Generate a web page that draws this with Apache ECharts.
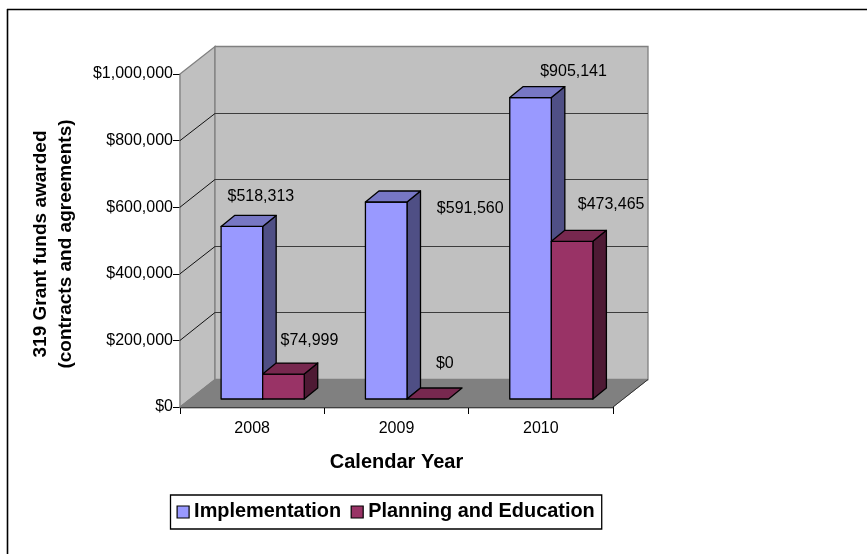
<!DOCTYPE html>
<html>
<head>
<meta charset="utf-8">
<script src="https://cdn.jsdelivr.net/npm/echarts@6/dist/echarts.min.js"></script>
<style>
  html, body { margin: 0; padding: 0; background: #fff; }
  #chart { width: 867px; height: 554px; }
</style>
</head>
<body>
<div id="chart"></div>
<script>
// Grant funding by calendar year, drawn as a 3-D style clustered column chart.
const categories = ['2008', '2009', '2010'];
const implementation = [518313, 591560, 905141];
const planning = [74999, 0, 473465];
const yTicks = [0, 200000, 400000, 600000, 800000, 1000000];

// Projection of the chart box and of the columns inside it, in pixels.
const WALL_DX = 35, WALL_DY = -27.5;
const BAR_PLANE_DX = 10.5, BAR_PLANE_DY = -8;
const BAR_DX = 13.5, BAR_DY = -11;
const BAR_WIDTH_RATIO = 0.288;

// Value label placement relative to the top centre of each column's front face.
const implLabelShift = [[19, -30], [84, 7], [43, -26]];
const planLabelShift = [[26, -33], [17, -35], [39, -37]];

const FONT = '"Liberation Sans", Arial, sans-serif';
const money = v => '$' + v.toLocaleString('en-US');

function poly(points, fill, lw) {
  return {
    type: 'polygon',
    shape: { points },
    style: { fill, stroke: '#000', lineWidth: lw === undefined ? 1.3 : lw, lineJoin: 'round' }
  };
}

// side: -1 puts the column left of the category's centre line, +1 right of it.
function columnRenderer(side, colors, shifts) {
  return function (params, api) {
    const cat = api.value(0);
    const val = api.value(1);
    const top = api.coord([cat, val]);
    const base = api.coord([cat, 0]);
    const w = api.size([1, 0])[0] * BAR_WIDTH_RATIO;
    const cx = top[0] + BAR_PLANE_DX;
    const x0 = side < 0 ? cx - w : cx;
    const x1 = x0 + w;
    const yT = top[1] + BAR_PLANE_DY;
    const yB = base[1] + BAR_PLANE_DY;
    const children = [];
    if (val > 0) {
      children.push(poly([[x1, yT], [x1 + BAR_DX, yT + BAR_DY], [x1 + BAR_DX, yB + BAR_DY], [x1, yB]], colors.side));
      children.push(poly([[x0, yT], [x1, yT], [x1, yB], [x0, yB]], colors.front));
    }
    children.push(poly([[x0, yT], [x1, yT], [x1 + BAR_DX, yT + BAR_DY], [x0 + BAR_DX, yT + BAR_DY]], colors.top));
    const s = shifts[params.dataIndex];
    children.push({
      type: 'text',
      z2: 50,
      style: {
        text: money(val),
        x: (x0 + x1) / 2 + s[0],
        y: yT + s[1],
        align: 'center',
        verticalAlign: 'middle',
        fill: '#000',
        font: '16px ' + FONT
      }
    });
    return { type: 'group', children };
  };
}

// Left wall, back wall and floor of the chart box.
function renderWalls(params, api) {
  const a = api.coord([0, 0]);
  const band = api.size([1, 0])[0];
  const top = api.coord([0, 1000000])[1];
  const xL = a[0] - band / 2;
  const xR = xL + band * categories.length;
  const yB = a[1];
  const edge = { stroke: '#808080', lineWidth: 1.3 };
  return {
    type: 'group',
    children: [
      { type: 'polygon', shape: { points: [[xL, top], [xL + WALL_DX, top + WALL_DY], [xL + WALL_DX, yB + WALL_DY], [xL, yB]] },
        style: { fill: '#C0C0C0', ...edge } },
      { type: 'polygon', shape: { points: [[xL + WALL_DX, top + WALL_DY], [xR + WALL_DX, top + WALL_DY], [xR + WALL_DX, yB + WALL_DY], [xL + WALL_DX, yB + WALL_DY]] },
        style: { fill: '#C0C0C0', ...edge } },
      { type: 'polygon', shape: { points: [[xL, yB], [xL + WALL_DX, yB + WALL_DY], [xR + WALL_DX, yB + WALL_DY], [xR, yB]] },
        style: { fill: '#808080', stroke: '#808080', lineWidth: 1 } },
      { type: 'line', shape: { x1: xR, y1: yB, x2: xR + WALL_DX, y2: yB + WALL_DY },
        style: { stroke: '#333', lineWidth: 1 } }
    ]
  };
}

// Gridline for one tick: slanted across the left wall, level across the back wall.
function renderGridline(params, api) {
  const val = api.value(1);
  if (val === 0 || val === 1000000) return { type: 'group', children: [] };
  const p = api.coord([0, val]);
  const band = api.size([1, 0])[0];
  const xL = p[0] - band / 2;
  const xR = xL + band * categories.length;
  const y = Math.floor(p[1] + WALL_DY) + 0.5;
  return {
    type: 'group',
    children: [
      { type: 'line', shape: { x1: xL, y1: p[1], x2: xL + WALL_DX, y2: y }, style: { stroke: '#111', lineWidth: 1 } },
      { type: 'line', shape: { x1: xL + WALL_DX, y1: y, x2: xR + WALL_DX, y2: y }, style: { stroke: '#3c3c3c', lineWidth: 1.2 } }
    ]
  };
}

const implColors = { front: '#9999FF', top: '#7777C4', side: '#4F4F85' };
const planColors = { front: '#993366', top: '#77284F', side: '#4E1A34' };

const chart = echarts.init(document.getElementById('chart'), null, { renderer: 'canvas' });
chart.setOption({
  animation: false,
  backgroundColor: '#fff',
  textStyle: { fontFamily: FONT },
  grid: { left: 180, right: 254, top: 74, bottom: 147, containLabel: false },
  xAxis: {
    type: 'category',
    data: categories,
    boundaryGap: true,
    name: 'Calendar Year',
    nameLocation: 'middle',
    nameGap: 45,
    nameTextStyle: { fontFamily: FONT, fontWeight: 'bold', fontSize: 20, color: '#000' },
    axisLine: { show: true, lineStyle: { color: '#000', width: 1.3 } },
    axisTick: { show: true, alignWithLabel: false, length: 7, lineStyle: { color: '#000', width: 1 } },
    axisLabel: { fontFamily: FONT, fontSize: 16, color: '#000', margin: 14 },
    splitLine: { show: false }
  },
  yAxis: {
    type: 'value',
    min: 0,
    max: 1000000,
    interval: 200000,
    name: '319 Grant funds awarded\n(contracts and agreements)',
    nameLocation: 'middle',
    nameGap: 102,
    nameRotate: 90,
    nameTextStyle: { fontFamily: FONT, fontWeight: 'bold', fontSize: 19, color: '#000', lineHeight: 25, padding: [0, 7, 0, 0] },
    axisLine: { show: true, lineStyle: { color: '#000', width: 1.3 } },
    axisTick: { show: true, length: 7, lineStyle: { color: '#000', width: 1 } },
    axisLabel: { fontFamily: FONT, fontSize: 16, color: '#000', margin: 7, formatter: v => money(v) },
    splitLine: { show: false }
  },
  legend: {
    data: ['Implementation', 'Planning and Education'],
    orient: 'horizontal',
    left: 170.5,
    top: 495,
    padding: [7, 7, 7, 6],
    itemGap: 9.5,
    itemWidth: 12,
    itemHeight: 12,
    icon: 'rect',
    borderColor: '#000',
    borderWidth: 1.3,
    backgroundColor: '#fff',
    selectedMode: false,
    textStyle: { fontFamily: FONT, fontWeight: 'bold', fontSize: 19.9, color: '#000' },
    itemStyle: { borderColor: '#000', borderWidth: 1.2 }
  },
  graphic: [
    { type: 'line', silent: true, shape: { x1: 7.5, y1: 9, x2: 7.5, y2: 554 }, style: { stroke: '#000', lineWidth: 1.6 } },
    { type: 'line', silent: true, shape: { x1: 7, y1: 9.5, x2: 867, y2: 9.5 }, style: { stroke: '#000', lineWidth: 1.6 } }
  ],
  series: [
    {
      type: 'custom', name: 'walls', z: 1, silent: true,
      data: [[0, 0]],
      encode: { x: 0, y: 1 },
      renderItem: renderWalls
    },
    {
      type: 'custom', name: 'gridlines', z: 1.5, silent: true,
      data: yTicks.map(v => [0, v]),
      encode: { x: 0, y: 1 },
      renderItem: renderGridline
    },
    {
      type: 'custom', name: 'Implementation', z: 3,
      itemStyle: { color: implColors.front },
      data: implementation.map((v, i) => [i, v]),
      encode: { x: 0, y: 1 },
      renderItem: columnRenderer(-1, implColors, implLabelShift)
    },
    {
      type: 'custom', name: 'Planning and Education', z: 4,
      itemStyle: { color: planColors.front },
      data: planning.map((v, i) => [i, v]),
      encode: { x: 0, y: 1 },
      renderItem: columnRenderer(1, planColors, planLabelShift)
    }
  ]
});
</script>
</body>
</html>
